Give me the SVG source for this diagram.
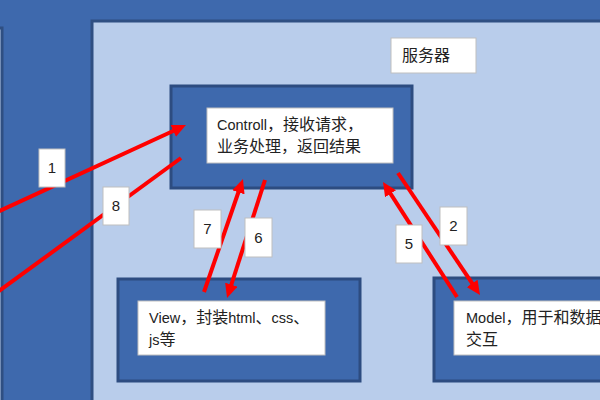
<svg xmlns="http://www.w3.org/2000/svg" width="600" height="400" viewBox="0 0 600 400">
<style>
.panel{fill:#B9CDEB;stroke:#2F4F82;stroke-width:3}
.box{fill:#3E69AD;stroke:#2D4C80;stroke-width:3}
.inner{fill:#FFFFFF;stroke:#BFBFBF;stroke-width:1}
.lbl{fill:#FFFFFF;stroke:#BFBFBF;stroke-width:1}
.t{font-family:"Noto Sans CJK SC","Liberation Sans",sans-serif;font-size:16px;fill:#222222}
.lat{font-family:"Liberation Sans","Noto Sans CJK SC",sans-serif;font-size:14.5px}
.num{font-family:"Liberation Sans",sans-serif;font-size:15px;fill:#222222;text-anchor:middle}
.arr{stroke:#FF0000;stroke-width:4;fill:none}
</style>
<defs>
<marker id="ah" markerUnits="userSpaceOnUse" markerWidth="14" markerHeight="13" viewBox="0 0 14 13" refX="4" refY="6.5" orient="auto">
<path d="M0,0 L14,6.5 L0,13 z" fill="#FF0000"/>
</marker>
</defs>
<rect x="0" y="0" width="600" height="400" fill="#3E69AD"/>
<rect class="panel" x="-20" y="28" width="22" height="400"/>
<g id="server">
<rect class="panel" x="92" y="21" width="520" height="390"/>
</g>
<g id="server-label">
<rect class="lbl" x="391" y="38" width="85" height="35"/>
<text class="t" x="402" y="61">服务器</text>
</g>
<g id="controll">
<rect class="box" x="171" y="86" width="241" height="102"/>
<rect class="inner" x="207" y="108" width="186" height="55"/>
<text class="t" x="217" y="130"><tspan class="lat">Controll</tspan>，接收请求，</text>
<text class="t" x="217" y="152">业务处理，返回结果</text>
</g>
<g id="view">
<rect class="box" x="118" y="279" width="242" height="102"/>
<rect class="inner" x="138" y="301" width="187" height="54"/>
<text class="t" x="149" y="323"><tspan class="lat">View</tspan>，封装<tspan class="lat">html</tspan>、<tspan class="lat">css</tspan>、</text>
<text class="t" x="149" y="345"><tspan class="lat">js</tspan>等</text>
</g>
<g id="model">
<rect class="box" x="434" y="278" width="242" height="103"/>
<rect class="inner" x="454" y="301" width="187" height="54"/>
<text class="t" x="466" y="323"><tspan class="lat">Model</tspan>，用于和数据</text>
<text class="t" x="466" y="345">交互</text>
</g>
<g id="connectors">
<line class="arr" x1="-5" y1="213" x2="176.9" y2="129.2" marker-end="url(#ah)"/>
<line class="arr" x1="181" y1="158" x2="-5" y2="294"/>
<line class="arr" x1="204" y1="292" x2="239.7" y2="188.5" marker-end="url(#ah)"/>
<line class="arr" x1="265" y1="180" x2="230.1" y2="288.5" marker-end="url(#ah)"/>
<line class="arr" x1="457" y1="297" x2="388.4" y2="190.4" marker-end="url(#ah)"/>
<line class="arr" x1="398" y1="173" x2="474.4" y2="286.7" marker-end="url(#ah)"/>
</g>
<g id="labels">
<g id="l1"><rect class="lbl" x="39" y="149" width="26" height="38"/><text class="num" x="52" y="173">1</text></g>
<g id="l8"><rect class="lbl" x="103" y="187" width="26" height="38"/><text class="num" x="116" y="211">8</text></g>
<g id="l7"><rect class="lbl" x="194" y="210" width="27" height="38"/><text class="num" x="207.5" y="234">7</text></g>
<g id="l6"><rect class="lbl" x="245" y="218" width="27" height="39"/><text class="num" x="258.5" y="243">6</text></g>
<g id="l5"><rect class="lbl" x="396" y="225" width="26" height="38"/><text class="num" x="409" y="249">5</text></g>
<g id="l2"><rect class="lbl" x="440" y="207" width="27" height="38"/><text class="num" x="453.5" y="231">2</text></g>
</g>
</svg>
